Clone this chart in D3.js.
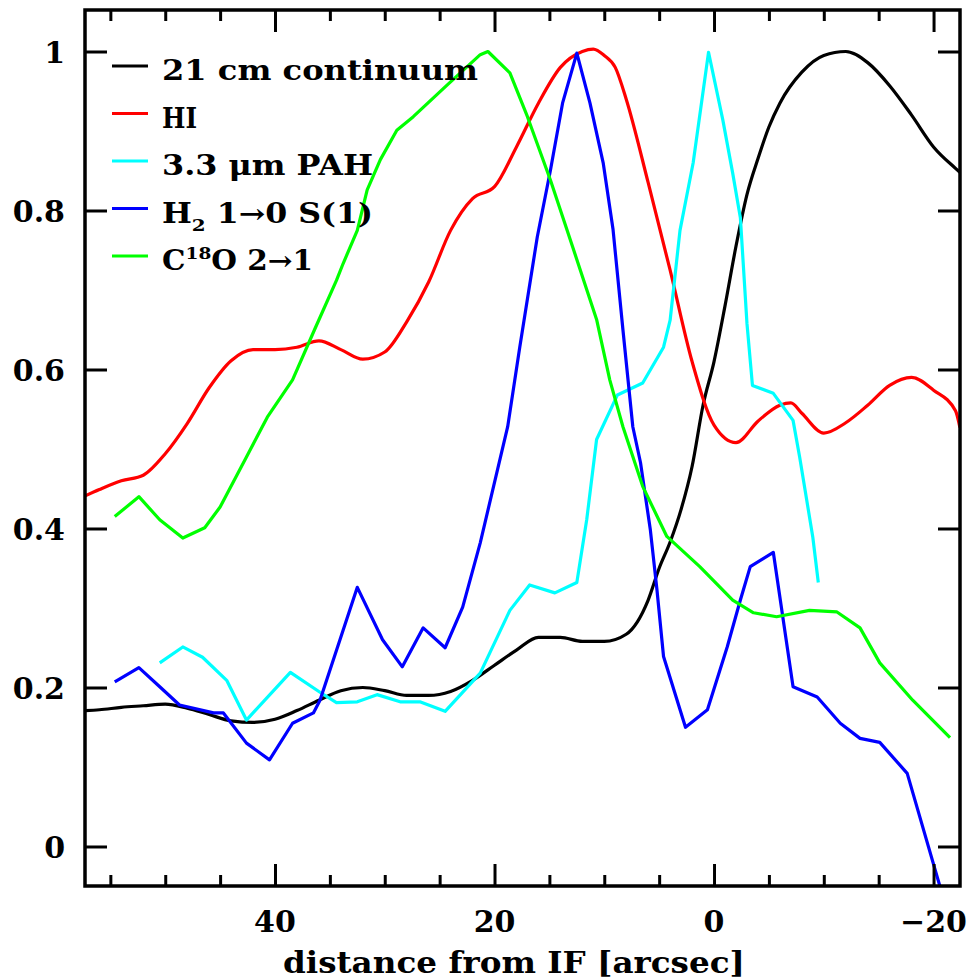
<!DOCTYPE html>
<html>
<head>
<meta charset="utf-8">
<script src="https://cdn.jsdelivr.net/npm/d3@7/dist/d3.min.js"></script>
<style>
  html, body { margin: 0; padding: 0; background: #fff; }
  svg { display: block; }
  text { font-family: "DejaVu Serif", serif; font-weight: bold; fill: #000; }
</style>
</head>
<body>
<svg id="chart" width="970" height="980"></svg>
<script>
// ---------------- data (arcsec from IF, normalised intensity) ----------------
const contPos = [57.3, 56, 54, 52, 50, 48, 46, 44, 42, 40, 38, 36, 34, 32, 30, 28, 26, 24, 22, 20, 18, 16, 14, 12, 10, 8, 6, 5, 4, 3, 2, 1, 0, -1, -2, -3, -4, -5, -6, -8, -10, -12, -14, -16, -18, -20, -22, -22.4];
const contVal = [0.171, 0.172, 0.175, 0.177, 0.179, 0.174, 0.166, 0.158, 0.156, 0.160, 0.171, 0.184, 0.196, 0.200, 0.196, 0.190, 0.190, 0.195, 0.209, 0.228, 0.247, 0.263, 0.263, 0.258, 0.258, 0.267, 0.31, 0.35, 0.383, 0.424, 0.478, 0.555, 0.61, 0.68, 0.755, 0.82, 0.865, 0.905, 0.935, 0.974, 0.995, 1.0, 0.986, 0.957, 0.92, 0.88, 0.853, 0.848];

const hiPos = [57.3, 56, 54, 52, 50, 48, 46, 44, 42, 40, 38, 36, 34, 32, 30, 28, 26, 24, 22, 20, 18, 16, 14, 12, 11, 10, 9, 8, 6, 4, 2, 0, -2, -4, -6, -7, -8, -10, -12, -14, -16, -18, -20, -22, -22.4];
const hiVal = [0.441, 0.449, 0.46, 0.467, 0.494, 0.532, 0.577, 0.611, 0.625, 0.625, 0.628, 0.636, 0.625, 0.613, 0.622, 0.66, 0.71, 0.775, 0.815, 0.83, 0.88, 0.935, 0.98, 1.0, 1.003, 0.995, 0.98, 0.94, 0.835, 0.725, 0.61, 0.53, 0.508, 0.535, 0.555, 0.558, 0.545, 0.52, 0.533, 0.555, 0.58, 0.59, 0.574, 0.548, 0.527];

const pahPos = [50.5, 48.4, 46.6, 44.4, 42.6, 38.6, 35.9, 34.4, 32.5, 30.7, 28.6, 26.8, 24.5, 21.3, 18.6, 16.8, 14.5, 12.5, 11.6, 10.7, 8.8, 6.5, 4.6, 4.0, 3.1, 1.9, 0.5, -0.8, -1.7, -2.4, -3.0, -3.5, -5.4, -7.2, -7.8, -9.0, -9.5];
const pahVal = [0.231, 0.251, 0.238, 0.209, 0.159, 0.219, 0.194, 0.181, 0.182, 0.191, 0.182, 0.182, 0.170, 0.218, 0.297, 0.329, 0.319, 0.332, 0.411, 0.512, 0.568, 0.583, 0.628, 0.662, 0.775, 0.860, 0.999, 0.914, 0.847, 0.791, 0.658, 0.580, 0.570, 0.536, 0.490, 0.389, 0.332];

const h2Pos = [54.6, 52.4, 50.5, 48.7, 45.6, 44.7, 42.6, 40.5, 38.4, 36.5, 35.9, 32.5, 30.2, 28.4, 26.5, 24.5, 22.9, 21.3, 18.8, 17.7, 16.1, 14.9, 13.8, 12.5, 11.3, 10.1, 9.2, 8.3, 7.4, 6.7, 5.8, 5.2, 4.6, 2.6, 0.6, -1.2, -2.4, -3.3, -5.4, -7.2, -9.4, -11.5, -13.3, -15.1, -17.6, -20.6, -21.2];
const h2Val = [0.207, 0.225, 0.201, 0.178, 0.168, 0.168, 0.130, 0.109, 0.155, 0.168, 0.184, 0.326, 0.260, 0.226, 0.275, 0.250, 0.301, 0.382, 0.528, 0.628, 0.767, 0.851, 0.935, 0.998, 0.935, 0.860, 0.776, 0.650, 0.528, 0.483, 0.398, 0.323, 0.239, 0.150, 0.172, 0.251, 0.310, 0.352, 0.370, 0.201, 0.188, 0.155, 0.136, 0.131, 0.092, -0.051, -0.08];

const coPos = [54.6, 52.4, 50.5, 48.4, 46.4, 45.0, 42.6, 40.7, 38.4, 36.4, 34.4, 33.8, 32.5, 31.6, 30.4, 28.9, 27.4, 24.3, 21.3, 20.6, 18.6, 17.0, 14.9, 12.9, 10.7, 9.5, 8.3, 6.5, 4.3, 1.3, -1.7, -3.6, -5.7, -8.7, -11.2, -13.3, -15.1, -18.1, -21.5];
const coVal = [0.415, 0.440, 0.411, 0.388, 0.401, 0.427, 0.490, 0.540, 0.587, 0.650, 0.712, 0.733, 0.775, 0.826, 0.864, 0.901, 0.918, 0.958, 0.996, 1.000, 0.973, 0.918, 0.838, 0.755, 0.663, 0.587, 0.528, 0.453, 0.390, 0.352, 0.310, 0.294, 0.289, 0.297, 0.295, 0.275, 0.231, 0.184, 0.137];

const seriesNames  = ["21 cm continuum", "HI", "3.3 \u03bcm PAH", "H2 1\u21920 S(1)", "C18O 2\u21921"];
const seriesColors = ["#000000", "#ff0000", "#00ffff", "#0000ff", "#00ff00"];

const xMajorTicks = [40, 20, 0, -20];
const xMinorTicks = [55, 50, 45, 35, 30, 25, 15, 10, 5, -5, -10, -15];
const yTicks = [0, 0.2, 0.4, 0.6, 0.8, 1];
const xTickLabels = ["40", "20", "0", "\u221220"];
const yTickLabels = ["0", "0.2", "0.4", "0.6", "0.8", "1"];
const xTitle = "distance from IF [arcsec]";

// ---------------- layout ----------------
const L = 85, R = 960, T = 10, B = 886;
const svg = d3.select("#chart");

const x = d3.scaleLinear().domain([57.31, -22.41]).range([L, R]);
const y = d3.scaleLinear().domain([-0.0497, 1.0522]).range([B, T]);

svg.append("defs").append("clipPath").attr("id", "clip")
  .append("rect").attr("x", L).attr("y", T).attr("width", R - L).attr("height", B - T);

// curves
const series = [
  [contPos, contVal, d3.curveMonotoneX],
  [hiPos, hiVal, d3.curveMonotoneX],
  [pahPos, pahVal, d3.curveLinear],
  [h2Pos, h2Val, d3.curveLinear],
  [coPos, coVal, d3.curveLinear]
];
const plot = svg.append("g").attr("clip-path", "url(#clip)");
series.forEach((s, i) => {
  const pts = s[0].map((p, j) => [p, s[1][j]]);
  const line = d3.line().x(d => x(d[0])).y(d => y(d[1])).curve(s[2]);
  plot.append("path")
    .attr("d", line(pts))
    .attr("fill", "none")
    .attr("stroke", seriesColors[i])
    .attr("stroke-width", 3.2)
    .attr("stroke-linejoin", "round");
});

// axes (ticks inward)
function styleAxis(g) {
  g.select(".domain").remove();
  g.selectAll("line").attr("stroke", "#000").attr("stroke-width", 3);
  g.selectAll("text").remove();
}
svg.append("g").attr("transform", `translate(0,${B})`)
  .call(d3.axisBottom(x).tickValues(xMajorTicks).tickSizeInner(-22).tickSizeOuter(0)).call(styleAxis);
svg.append("g").attr("transform", `translate(0,${B})`)
  .call(d3.axisBottom(x).tickValues(xMinorTicks).tickSizeInner(-11).tickSizeOuter(0)).call(styleAxis);
svg.append("g").attr("transform", `translate(0,${T})`)
  .call(d3.axisTop(x).tickValues(xMajorTicks).tickSizeInner(-22).tickSizeOuter(0)).call(styleAxis);
svg.append("g").attr("transform", `translate(0,${T})`)
  .call(d3.axisTop(x).tickValues(xMinorTicks).tickSizeInner(-11).tickSizeOuter(0)).call(styleAxis);
svg.append("g").attr("transform", `translate(${L},0)`)
  .call(d3.axisLeft(y).tickValues(yTicks).tickSizeInner(-22).tickSizeOuter(0)).call(styleAxis);
svg.append("g").attr("transform", `translate(${R},0)`)
  .call(d3.axisRight(y).tickValues(yTicks).tickSizeInner(-22).tickSizeOuter(0)).call(styleAxis);

// frame
svg.append("rect").attr("x", L).attr("y", T).attr("width", R - L).attr("height", B - T)
  .attr("fill", "none").attr("stroke", "#000").attr("stroke-width", 3.5);

// tick labels
svg.append("g").selectAll("text").data(xMajorTicks).join("text")
  .attr("x", d => x(d)).attr("y", 932)
  .attr("text-anchor", "middle").attr("font-size", 30)
  .text((d, i) => xTickLabels[i]);
svg.append("g").selectAll("text").data(yTicks).join("text")
  .attr("x", 65).attr("y", d => y(d) + 12)
  .attr("text-anchor", "end").attr("font-size", 30)
  .text((d, i) => yTickLabels[i]);

// axis title
svg.append("text").attr("x", 514).attr("y", 973).attr("text-anchor", "middle")
  .attr("font-size", 30).attr("textLength", 462).attr("lengthAdjust", "spacingAndGlyphs")
  .text(xTitle);

// legend
const legWidths = [316, 35, 211, 211, 151];
const leg = svg.append("g");
seriesNames.forEach((name, i) => {
  const by = 80 + 47.5 * i;
  leg.append("line").attr("x1", 112).attr("x2", 148).attr("y1", by - 14).attr("y2", by - 14)
    .attr("stroke", seriesColors[i]).attr("stroke-width", 3.2);
  const t = leg.append("text").attr("x", 162).attr("y", by).attr("font-size", 27);
  if (i === 3) {
    t.append("tspan").text("H");
    t.append("tspan").attr("font-size", 17).attr("dy", 8).text("2");
    t.append("tspan").attr("dy", -8).text("  1\u21920 S(1)");
  } else if (i === 4) {
    t.append("tspan").text("C");
    t.append("tspan").attr("font-size", 17).attr("dy", -11).text("18");
    t.append("tspan").attr("dy", 11).text("O  2\u21921");
  } else {
    t.text(name.replace(" continuum", "  continuum"));
  }
  t.attr("textLength", legWidths[i]).attr("lengthAdjust", "spacingAndGlyphs");
});
</script>
</body>
</html>
